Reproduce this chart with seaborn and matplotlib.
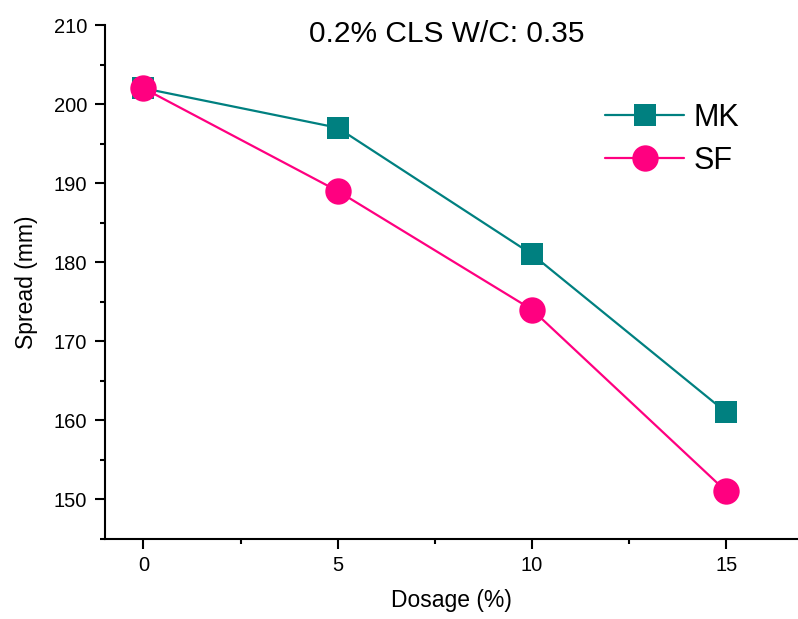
import numpy as np
import pandas as pd
import matplotlib
matplotlib.use("Agg")
import matplotlib.pyplot as plt
import seaborn as sns
from matplotlib.ticker import MultipleLocator

sns.set_theme(style="ticks")
plt.rcParams['font.family'] = ['Liberation Sans', 'DejaVu Sans']
plt.rcParams['text.color'] = 'black'
plt.rcParams['axes.labelcolor'] = 'black'

dosage = [0, 5, 10, 15]
mk_spread = [202, 197, 181, 161]
sf_spread = [202, 189, 174, 151]

MK_COLOR = '#008080'
SF_COLOR = '#FF0080'

df = pd.DataFrame({'Dosage': dosage, 'MK': mk_spread, 'SF': sf_spread})

fig = plt.figure(figsize=(7.98, 6.19), dpi=100)
ax = fig.add_axes([0.131, 0.1297, 0.869, 0.8299])

sns.lineplot(data=df, x='Dosage', y='MK', ax=ax, color=MK_COLOR, marker='s',
             markersize=16, markeredgewidth=0, linewidth=1.6, label='MK')
sns.lineplot(data=df, x='Dosage', y='SF', ax=ax, color=SF_COLOR, marker='o',
             markersize=19, markeredgewidth=0, linewidth=1.6, label='SF')

ax.set_xlim(-1.0, 16.85)
ax.set_ylim(145, 210)
ax.set_xticks(dosage)
ax.set_yticks(np.arange(150, 211, 10))
ax.xaxis.set_minor_locator(MultipleLocator(2.5))
ax.yaxis.set_minor_locator(MultipleLocator(5))

for side in ['top', 'right']:
    ax.spines[side].set_visible(False)
for side in ['left', 'bottom']:
    ax.spines[side].set_linewidth(1.5)
    ax.spines[side].set_color('black')

ax.tick_params(which='major', direction='out', length=7.5, width=1.5,
               labelsize=14.5, colors='black', pad=5)
ax.tick_params(which='minor', direction='out', length=3.8, width=1.5, colors='black')

ax.set_xlabel('Dosage (%)', fontsize=16.5, labelpad=10)
ax.set_ylabel('Spread (mm)', fontsize=16.5, labelpad=11)

fig.text(0.56, 0.945, '0.2% CLS W/C: 0.35', fontsize=21.5, ha='center', va='center')

leg = ax.legend(loc='center left', bbox_to_anchor=(0.739, 0.775), bbox_transform=fig.transFigure,
                frameon=False, fontsize=22, handlelength=2.6, handletextpad=0.3,
                labelspacing=0.42, borderpad=0)
for t in leg.get_texts():
    t.set_color('black')

fig.savefig('out.png', dpi=100)
